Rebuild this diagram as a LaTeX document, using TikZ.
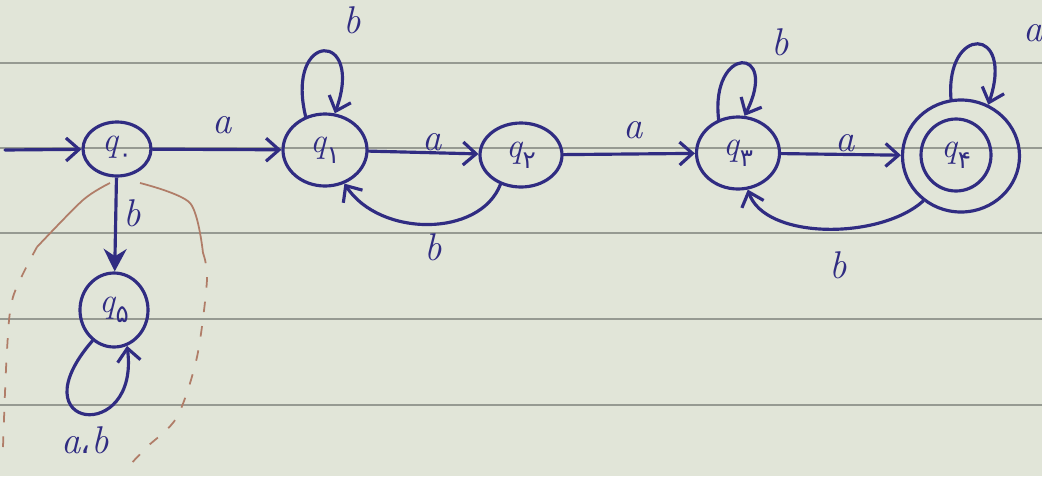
\documentclass[tikz,border=0pt]{standalone}
\usepackage{fontspec}
\newfontfamily\fa[Script=Arabic]{DejaVu Sans}
\usetikzlibrary{arrows.meta,shapes.geometric}
\definecolor{ink}{HTML}{302C82}
\definecolor{paper}{HTML}{E1E5D8}
\definecolor{ruling}{HTML}{969A92}
\definecolor{pencil}{HTML}{B07D68}
\newcommand\stt[1]{{\itshape q}\kern0.5pt\raisebox{-0.7ex}{\fa\fontsize{14}{14}\selectfont #1}}
\tikzset{
  st/.style={ellipse, draw=ink, text=ink, line width=1.8pt, inner sep=0pt,
    font=\fontsize{20}{20}\selectfont},
  tr/.style={draw=ink, line width=1.8pt, line cap=round,
    -{Straight Barb[length=2.6mm,width=4.6mm]}},
  trf/.style={draw=ink, line width=1.8pt, -{Stealth[length=4.5mm,width=4.6mm]}},
  lab/.style={text=ink, font=\itshape\fontsize{22}{24}\selectfont},
  rl/.style={draw=ruling, line width=0.8pt},
  pen/.style={draw=pencil, line width=1pt},
}
\begin{document}
\begin{tikzpicture}
\useasboundingbox (0,0) rectangle (20.84,-9.52);
\fill[paper] (0,0) rectangle (20.84,-9.52);
% ruled lines
\foreach \y in {1.26,2.96,4.66,6.38,8.10} \draw[rl] (0,-\y) -- (20.84,-\y);
% pencil arch
\draw[pen] plot[smooth] coordinates {(0.74,-4.94) (1.66,-4.0) (2.2,-3.66)};
\draw[pen, dash pattern=on 6pt off 8pt] plot[smooth] coordinates {(0.06,-8.94) (0.14,-7.0) (0.26,-5.94) (0.74,-4.94)};
\draw[pen] plot[smooth] coordinates {(2.8,-3.66) (3.8,-4.06) (4.06,-5.06)};
\draw[pen, dash pattern=on 6pt off 8pt] plot[smooth] coordinates {(4.06,-5.06) (4.14,-5.6) (3.94,-7.14) (3.54,-8.34) (2.94,-8.94) (2.5,-9.4)};
% states
\node[st, minimum width=1.36cm, minimum height=1.08cm] (q0) at (2.34,-2.98) {\stt{۰}};
\node[st, minimum width=1.68cm, minimum height=1.44cm] (q1) at (6.50,-3.00) {\stt{۱}};
\node[st, minimum width=1.64cm, minimum height=1.28cm] (q2) at (10.42,-3.10) {\stt{۲}};
\node[st, minimum width=1.66cm, minimum height=1.44cm] (q3) at (14.76,-3.06) {\stt{۳}};
\node[st, minimum width=1.40cm, minimum height=1.44cm] (q4) at (19.12,-3.10) {\stt{۴}};
\node[st, minimum width=2.34cm, minimum height=2.24cm] (q4o) at (19.22,-3.12) {};
\node[st, minimum width=1.36cm, minimum height=1.48cm] (q5) at (2.28,-6.20) {\stt{۵}};
\coordinate (s) at (0.1,-3.0);
% transitions
\draw[tr] (s) -- (q0);
\draw[tr] (q0) -- (q1);
\draw[tr] (q1) -- (q2);
\draw[tr] (q2) -- (q3);
\draw[tr] (q3) -- (q4o);
\draw[trf] (q0) -- (q5);
\draw[tr] (q2.235) .. controls (9.6,-4.75) and (7.6,-4.75) .. (q1.-60);
\draw[tr] (q4o.230) .. controls (17.6,-4.8) and (15.3,-4.8) .. (q3.-75);
\draw[tr] (q1.120) .. controls (5.7,-0.6) and (7.3,-0.6) .. (q1.75);
\draw[tr] (q3.120) .. controls (14.2,-0.9) and (15.6,-0.9) .. (q3.80);
\draw[tr] (q4o.100) .. controls (18.9,-0.5) and (20.3,-0.5) .. (q4o.62);
\draw[tr] (q5.235) .. controls (0.3,-8.6) and (2.8,-8.9) .. (q5.-70);
% labels
\node[lab] (l1) at (4.44,-2.50) {a};
\node[lab] (l2) at (8.64,-2.84) {a};
\node[lab] (l3) at (12.66,-2.60) {a};
\node[lab] (l4) at (16.90,-2.86) {a};
\node[lab] (l5) at (8.66,-4.94) {b};
\node[lab] (l6) at (16.76,-5.30) {b};
\node[lab] (l7) at (2.64,-4.26) {b};
\node[lab] (l8) at (7.04,-0.40) {b};
\node[lab] (l9) at (15.60,-0.84) {b};
\node[lab] (l10) at (20.66,-0.66) {a};
\node[lab] (l11) at (1.70,-8.80) {a{\upshape\fa\fontsize{18}{18}\selectfont ،}b};
\end{tikzpicture}
\end{document}
